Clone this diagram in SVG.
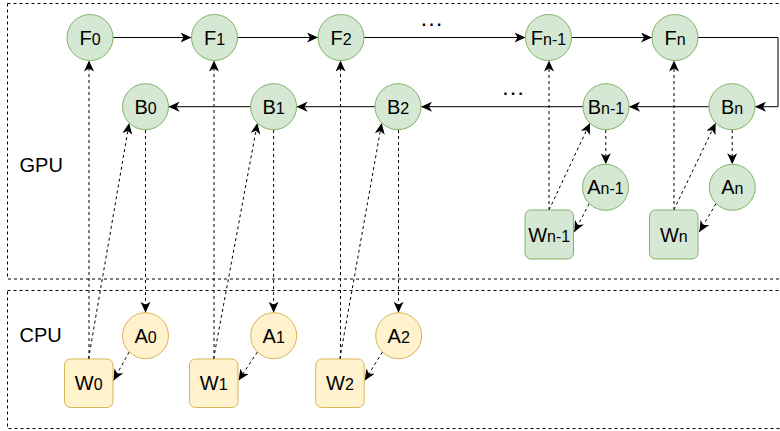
<svg xmlns="http://www.w3.org/2000/svg" width="780" height="431" viewBox="0 0 780 431">
<style>
.g{fill:#d5e8d4;stroke:#82b366;stroke-width:1}
.y{fill:#fff2cc;stroke:#d6b656;stroke-width:1}
.t{font-family:"Liberation Sans",Arial,sans-serif;font-size:20px;fill:#000;text-anchor:middle}
.s{font-size:16px}
.box{fill:none;stroke:#000;stroke-width:1;stroke-dasharray:3 3}
.sol{fill:none;stroke:#000;stroke-width:1;marker-end:url(#ah)}
.dsh{fill:none;stroke:#000;stroke-width:1;stroke-dasharray:3 3;marker-end:url(#ah)}
</style>
<defs>
<marker id="ah" markerUnits="userSpaceOnUse" markerWidth="12" markerHeight="10" viewBox="0 0 12 10" refX="11" refY="5" orient="auto">
<path d="M0,0 L11,5 L0,10 L3,5 Z" fill="#000"/>
</marker>
</defs>
<rect fill="#fff" x="0" y="0" width="780" height="431"/>
<g id="gpu-container">
<rect class="box" x="7.5" y="3.5" width="800" height="275.5"/>
<text class="t" x="19.5" y="171.5" style="text-anchor:start">GPU</text>
</g>
<g id="cpu-container">
<rect class="box" x="7.5" y="290.5" width="800" height="138"/>
<text class="t" x="19.5" y="342" style="text-anchor:start">CPU</text>
</g>
<g id="connectors">
<path class="sol" d="M113,37.5 H191.5"/>
<path class="sol" d="M237.5,37.5 H318"/>
<path class="sol" d="M364,37.5 H525.5"/>
<path class="sol" d="M571.5,37.5 H652"/>
<path class="sol" d="M698,37.5 H778 V106.7 H755"/>
<path class="sol" d="M709,106.7 H629"/>
<path class="sol" d="M583,106.7 H421"/>
<path class="sol" d="M375,106.7 H296.5"/>
<path class="sol" d="M250.5,106.7 H168.5"/>
<path class="dsh" d="M89,359 V60.5"/>
<path class="dsh" d="M214,359 V60.5"/>
<path class="dsh" d="M340.5,359 V60.5"/>
<path class="dsh" d="M549,210 V60.5"/>
<path class="dsh" d="M674,210 V60.5"/>
<path class="dsh" d="M88.5,359 L129.2,123"/>
<path class="dsh" d="M213.5,359 L257.4,123"/>
<path class="dsh" d="M339.8,359 L381.7,123"/>
<path class="dsh" d="M549,210 L590,123"/>
<path class="dsh" d="M673.8,210 L715.7,123"/>
<path class="dsh" d="M145.5,130 V312.7"/>
<path class="dsh" d="M273.6,130 V312.7"/>
<path class="dsh" d="M398.5,130 V312.7"/>
<path class="dsh" d="M605.8,130 V164.3"/>
<path class="dsh" d="M732.2,130 V164.3"/>
<path class="dsh" d="M129.2,352 L113.5,380.5"/>
<path class="dsh" d="M257.4,352 L238.5,380.5"/>
<path class="dsh" d="M382.4,352 L364.8,380.5"/>
<path class="dsh" d="M589.2,203.6 L574.3,232"/>
<path class="dsh" d="M716,203.6 L699.3,232"/>
</g>
<g id="dots-top"><text class="t" x="431.5" y="26" style="font-size:24px">…</text></g>
<g id="dots-bottom"><text class="t" x="513" y="95" style="font-size:24px">…</text></g>
<g id="F0"><circle class="g" cx="90" cy="37.5" r="23"/><text class="t" x="90" y="44.5">F<tspan class="s">0</tspan></text></g>
<g id="F1"><circle class="g" cx="214.5" cy="37.5" r="23"/><text class="t" x="214.5" y="44.5">F<tspan class="s">1</tspan></text></g>
<g id="F2"><circle class="g" cx="341" cy="37.5" r="23"/><text class="t" x="341" y="44.5">F<tspan class="s">2</tspan></text></g>
<g id="Fn-1"><circle class="g" cx="548.5" cy="37.5" r="23"/><text class="t" x="548.5" y="44.5">F<tspan class="s">n-1</tspan></text></g>
<g id="Fn"><circle class="g" cx="675" cy="37.5" r="23"/><text class="t" x="675" y="44.5">F<tspan class="s">n</tspan></text></g>
<g id="B0"><circle class="g" cx="145.5" cy="106.7" r="23"/><text class="t" x="145.5" y="113.7">B<tspan class="s">0</tspan></text></g>
<g id="B1"><circle class="g" cx="273.6" cy="106.7" r="23"/><text class="t" x="273.6" y="113.7">B<tspan class="s">1</tspan></text></g>
<g id="B2"><circle class="g" cx="398" cy="106.7" r="23"/><text class="t" x="398" y="113.7">B<tspan class="s">2</tspan></text></g>
<g id="Bn-1"><circle class="g" cx="606" cy="106.7" r="23"/><text class="t" x="606" y="113.7">B<tspan class="s">n-1</tspan></text></g>
<g id="Bn"><circle class="g" cx="732" cy="106.7" r="23"/><text class="t" x="732" y="113.7">B<tspan class="s">n</tspan></text></g>
<g id="An-1"><circle class="g" cx="605.5" cy="187.3" r="23"/><text class="t" x="605.5" y="194.3">A<tspan class="s">n-1</tspan></text></g>
<g id="An"><circle class="g" cx="732.3" cy="187.3" r="23"/><text class="t" x="732.3" y="194.3">A<tspan class="s">n</tspan></text></g>
<g id="Wn-1"><rect class="g" x="525" y="210" width="48.5" height="49" rx="6"/><text class="t" x="549.2" y="241.5">W<tspan class="s">n-1</tspan></text></g>
<g id="Wn"><rect class="g" x="649.5" y="210" width="48.5" height="49" rx="6"/><text class="t" x="673.8" y="241.5">W<tspan class="s">n</tspan></text></g>
<g id="A0"><circle class="y" cx="145.5" cy="335.7" r="23"/><text class="t" x="145.5" y="342.7">A<tspan class="s">0</tspan></text></g>
<g id="A1"><circle class="y" cx="273.7" cy="335.7" r="23"/><text class="t" x="273.7" y="342.7">A<tspan class="s">1</tspan></text></g>
<g id="A2"><circle class="y" cx="398.7" cy="335.7" r="23"/><text class="t" x="398.7" y="342.7">A<tspan class="s">2</tspan></text></g>
<g id="W0"><rect class="y" x="64.5" y="359" width="48.5" height="48.5" rx="6"/><text class="t" x="88.7" y="390">W<tspan class="s">0</tspan></text></g>
<g id="W1"><rect class="y" x="189.5" y="359" width="48.5" height="48.5" rx="6"/><text class="t" x="213.7" y="390">W<tspan class="s">1</tspan></text></g>
<g id="W2"><rect class="y" x="315.7" y="359" width="48.5" height="48.5" rx="6"/><text class="t" x="340" y="390">W<tspan class="s">2</tspan></text></g>
</svg>
